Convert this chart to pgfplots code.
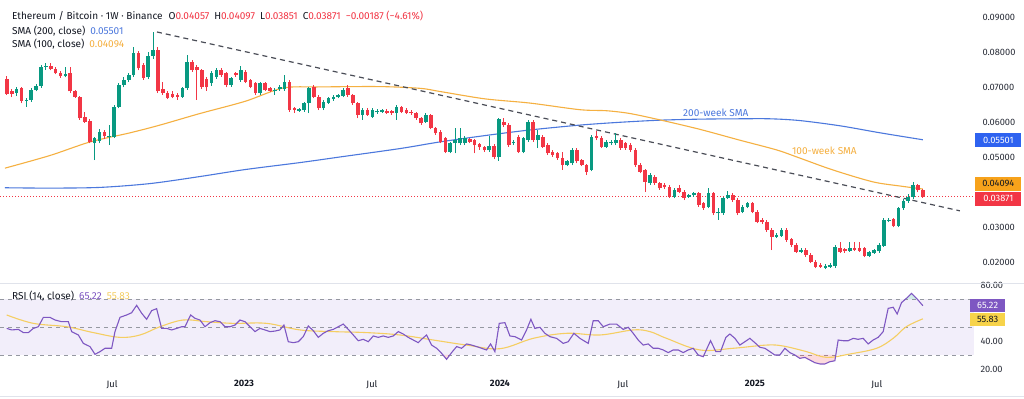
\documentclass[border=0pt]{standalone}
\usepackage{pgfplots}
\pgfplotsset{compat=1.18}
\usepackage{pgfplotstable}
\usepackage{fontspec}
\setmainfont{Fira Sans}
\definecolor{up}{HTML}{089981}
\definecolor{down}{HTML}{F23645}
\definecolor{smablue}{HTML}{4C78DD}
\definecolor{boxblue}{HTML}{2E62F0}
\definecolor{smaorange}{HTML}{F5B041}
\definecolor{boxorange}{HTML}{F7A21B}
\definecolor{rsipurple}{HTML}{7E57C2}
\definecolor{rsiyellow}{HTML}{F5CE62}
\definecolor{boxyellow}{HTML}{F7D34A}
\definecolor{rsibg}{HTML}{F2EEFA}
\definecolor{txt}{HTML}{131722}
\definecolor{scaletxt}{HTML}{2A2E39}
\definecolor{bandgray}{HTML}{9598A1}
\definecolor{trend}{HTML}{4A4D57}
\definecolor{sep}{HTML}{E0E3EB}
\newcommand{\lfont}{\fontsize{9.3}{11}\selectfont}
\newcommand{\gfont}{\fontsize{10.1}{12}\selectfont}

\pgfplotstableread{
k o h l c
0 0.0723 0.0733 0.0678 0.0681
1 0.0689 0.0695 0.0672 0.0682
2 0.0685 0.0702 0.0675 0.0695
3 0.0697 0.0700 0.0654 0.0661
4 0.0661 0.0668 0.0645 0.0664
5 0.0664 0.0697 0.0659 0.0692
6 0.0692 0.0708 0.0688 0.0704
7 0.0704 0.0764 0.0699 0.0759
8 0.0759 0.0769 0.0750 0.0762
9 0.0762 0.0768 0.0748 0.0752
10 0.0752 0.0757 0.0737 0.0740
11 0.0742 0.0746 0.0727 0.0731
12 0.0731 0.0759 0.0728 0.0738
13 0.0740 0.0759 0.0683 0.0688
14 0.0688 0.0692 0.0670 0.0673
15 0.0673 0.0676 0.0607 0.0611
16 0.0616 0.0630 0.0598 0.0602
17 0.0605 0.0608 0.0540 0.0545
18 0.0540 0.0559 0.0492 0.0554
19 0.0547 0.0580 0.0540 0.0571
20 0.0571 0.0577 0.0552 0.0560
21 0.0557 0.0592 0.0535 0.0561
22 0.0559 0.0650 0.0555 0.0645
23 0.0645 0.0712 0.0640 0.0707
24 0.0707 0.0730 0.0700 0.0721
25 0.0721 0.0742 0.0715 0.0735
26 0.0735 0.0816 0.0730 0.0797
27 0.0797 0.0805 0.0748 0.0754
28 0.0764 0.0770 0.0722 0.0727
29 0.0730 0.0800 0.0725 0.0790
30 0.0790 0.0859 0.0782 0.0806
31 0.0806 0.0815 0.0683 0.0688
32 0.0695 0.0716 0.0678 0.0685
33 0.0685 0.0690 0.0666 0.0670
34 0.0682 0.0688 0.0668 0.0672
35 0.0679 0.0685 0.0664 0.0673
36 0.0673 0.0702 0.0670 0.0697
37 0.0697 0.0792 0.0693 0.0773
38 0.0773 0.0778 0.0745 0.0749
39 0.0759 0.0764 0.0664 0.0749
40 0.0749 0.0752 0.0695 0.0702
41 0.0725 0.0728 0.0690 0.0700
42 0.0712 0.0747 0.0705 0.0740
43 0.0730 0.0755 0.0725 0.0749
44 0.0749 0.0756 0.0730 0.0735
45 0.0740 0.0745 0.0700 0.0707
46 0.0707 0.0730 0.0702 0.0726
47 0.0740 0.0745 0.0730 0.0735
48 0.0722 0.0760 0.0716 0.0750
49 0.0745 0.0750 0.0712 0.0716
50 0.0721 0.0725 0.0697 0.0702
51 0.0711 0.0716 0.0678 0.0683
52 0.0683 0.0716 0.0678 0.0711
53 0.0711 0.0715 0.0688 0.0692
54 0.0697 0.0700 0.0686 0.0690
55 0.0688 0.0697 0.0678 0.0692
56 0.0694 0.0706 0.0690 0.0702
57 0.0694 0.0735 0.0690 0.0716
58 0.0716 0.0722 0.0630 0.0635
59 0.0640 0.0645 0.0626 0.0635
60 0.0633 0.0642 0.0630 0.0637
61 0.0635 0.0658 0.0630 0.0654
62 0.0654 0.0702 0.0626 0.0697
63 0.0702 0.0707 0.0668 0.0673
64 0.0673 0.0678 0.0635 0.0640
65 0.0640 0.0664 0.0635 0.0659
66 0.0656 0.0672 0.0652 0.0668
67 0.0666 0.0677 0.0662 0.0673
68 0.0671 0.0682 0.0668 0.0678
69 0.0675 0.0697 0.0671 0.0692
70 0.0697 0.0706 0.0673 0.0678
71 0.0678 0.0682 0.0650 0.0654
72 0.0654 0.0658 0.0611 0.0621
73 0.0621 0.0640 0.0607 0.0635
74 0.0635 0.0640 0.0618 0.0621
75 0.0616 0.0640 0.0612 0.0635
76 0.0628 0.0637 0.0625 0.0633
77 0.0630 0.0639 0.0627 0.0635
78 0.0633 0.0637 0.0624 0.0627
79 0.0632 0.0635 0.0622 0.0626
80 0.0627 0.0648 0.0607 0.0645
81 0.0643 0.0647 0.0626 0.0630
82 0.0635 0.0640 0.0623 0.0627
83 0.0630 0.0634 0.0621 0.0626
84 0.0626 0.0630 0.0607 0.0611
85 0.0611 0.0614 0.0593 0.0597
86 0.0602 0.0626 0.0598 0.0621
87 0.0621 0.0625 0.0580 0.0583
88 0.0583 0.0587 0.0565 0.0568
89 0.0573 0.0577 0.0540 0.0544
90 0.0554 0.0558 0.0511 0.0516
91 0.0516 0.0545 0.0511 0.0540
92 0.0540 0.0583 0.0511 0.0549
93 0.0540 0.0583 0.0535 0.0554
94 0.0540 0.0560 0.0535 0.0554
95 0.0552 0.0556 0.0540 0.0545
96 0.0549 0.0553 0.0511 0.0535
97 0.0538 0.0542 0.0522 0.0528
98 0.0528 0.0533 0.0515 0.0520
99 0.0520 0.0560 0.0516 0.0532
100 0.0532 0.0537 0.0495 0.0500
101 0.0500 0.0612 0.0490 0.0608
102 0.0602 0.0611 0.0587 0.0592
103 0.0592 0.0597 0.0530 0.0535
104 0.0540 0.0550 0.0535 0.0545
105 0.0559 0.0564 0.0512 0.0516
106 0.0516 0.0559 0.0511 0.0554
107 0.0549 0.0607 0.0545 0.0602
108 0.0602 0.0607 0.0545 0.0549
109 0.0549 0.0578 0.0526 0.0564
110 0.0559 0.0564 0.0526 0.0530
111 0.0535 0.0540 0.0507 0.0511
112 0.0516 0.0520 0.0502 0.0507
113 0.0511 0.0515 0.0493 0.0497
114 0.0497 0.0516 0.0464 0.0478
115 0.0478 0.0492 0.0474 0.0488
116 0.0483 0.0526 0.0478 0.0521
117 0.0521 0.0526 0.0483 0.0488
118 0.0492 0.0496 0.0474 0.0478
119 0.0478 0.0482 0.0449 0.0459
120 0.0464 0.0564 0.0460 0.0559
121 0.0560 0.0575 0.0548 0.0555
122 0.0556 0.0560 0.0526 0.0530
123 0.0530 0.0549 0.0526 0.0545
124 0.0540 0.0549 0.0535 0.0545
125 0.0540 0.0568 0.0535 0.0549
126 0.0549 0.0554 0.0521 0.0526
127 0.0540 0.0545 0.0521 0.0526
128 0.0535 0.0540 0.0516 0.0521
129 0.0521 0.0526 0.0473 0.0478
130 0.0478 0.0483 0.0454 0.0459
131 0.0464 0.0468 0.0402 0.0430
132 0.0426 0.0454 0.0421 0.0449
133 0.0445 0.0449 0.0421 0.0426
134 0.0426 0.0430 0.0407 0.0411
135 0.0421 0.0426 0.0410 0.0414
136 0.0416 0.0421 0.0383 0.0388
137 0.0388 0.0411 0.0383 0.0407
138 0.0411 0.0421 0.0397 0.0402
139 0.0402 0.0406 0.0378 0.0383
140 0.0388 0.0396 0.0385 0.0392
141 0.0392 0.0402 0.0388 0.0397
142 0.0397 0.0402 0.0359 0.0364
143 0.0369 0.0373 0.0350 0.0354
144 0.0359 0.0411 0.0354 0.0397
145 0.0397 0.0402 0.0335 0.0340
146 0.0340 0.0354 0.0321 0.0345
147 0.0340 0.0388 0.0336 0.0383
148 0.0383 0.0404 0.0380 0.0392
149 0.0392 0.0397 0.0373 0.0378
150 0.0378 0.0383 0.0335 0.0340
151 0.0345 0.0364 0.0340 0.0359
152 0.0357 0.0373 0.0354 0.0369
153 0.0369 0.0373 0.0340 0.0345
154 0.0345 0.0350 0.0311 0.0316
155 0.0321 0.0326 0.0309 0.0314
156 0.0316 0.0321 0.0288 0.0292
157 0.0292 0.0297 0.0235 0.0273
158 0.0273 0.0283 0.0269 0.0278
159 0.0276 0.0297 0.0273 0.0292
160 0.0292 0.0297 0.0259 0.0264
161 0.0266 0.0269 0.0245 0.0250
162 0.0250 0.0254 0.0226 0.0230
163 0.0230 0.0240 0.0226 0.0235
164 0.0235 0.0240 0.0216 0.0221
165 0.0221 0.0226 0.0197 0.0202
166 0.0202 0.0207 0.0183 0.0188
167 0.0192 0.0197 0.0185 0.0188
168 0.0184 0.0195 0.0180 0.0189
169 0.0188 0.0197 0.0185 0.0192
170 0.0189 0.0250 0.0185 0.0245
171 0.0240 0.0259 0.0226 0.0230
172 0.0237 0.0242 0.0228 0.0232
173 0.0233 0.0259 0.0230 0.0242
174 0.0240 0.0259 0.0232 0.0235
175 0.0240 0.0259 0.0230 0.0233
176 0.0240 0.0243 0.0214 0.0218
177 0.0218 0.0233 0.0215 0.0230
178 0.0228 0.0238 0.0225 0.0235
179 0.0231 0.0254 0.0228 0.0250
180 0.0247 0.0326 0.0245 0.0321
181 0.0318 0.0326 0.0314 0.0322
182 0.0323 0.0328 0.0300 0.0304
183 0.0304 0.0359 0.0300 0.0354
184 0.0354 0.0381 0.0350 0.0376
185 0.0376 0.0395 0.0370 0.0388
186 0.0386 0.0430 0.0380 0.0421
187 0.0421 0.0425 0.0400 0.04057
188 0.04057 0.04097 0.03851 0.03871
}\candles

\begin{document}
\begin{tikzpicture}
\useasboundingbox (0,0) rectangle (1024bp,399bp);
\fill[white] (0,0) rectangle (1024bp,399bp);

% ---------------- main price pane ----------------
\begin{axis}[
  at={(0bp,116bp)}, anchor=south west,
  scale only axis, width=974bp, height=283bp,
  xmin=-1.42, xmax=198.5, ymin=0.01409, ymax=0.09494,
  axis line style={draw=none},
  major tick length=0pt,
  xtick=\empty,
  ytick={0.02,0.03,0.05,0.06,0.07,0.08,0.09},
  yticklabel pos=right,
  scaled y ticks=false,
  yticklabel style={/pgf/number format/fixed,
    /pgf/number format/fixed zerofill,
    /pgf/number format/precision=5,
    /pgf/number format/assume math mode=true,
    font=\lfont, text=scaletxt, anchor=west, xshift=5bp},
  clip=false,
]
% SMA 200
\addplot[smablue, line width=1.1bp, smooth, tension=0.5, forget plot] coordinates {
(-0.4,0.0413) (8.8,0.0412) (19.1,0.0414) (29.4,0.0425) (39.6,0.0445) (48.9,0.0465)
(60.2,0.0485) (68.4,0.0501) (80.7,0.0525) (88.9,0.0544) (98.1,0.0562) (107.3,0.0578)
(117.6,0.0592) (125.8,0.0600) (134.0,0.0606) (142.2,0.0609) (150.4,0.0610) (156.6,0.0610)
(162.7,0.0605) (171.0,0.0590) (179.2,0.0570) (188.0,0.05501)};
% SMA 100
\addplot[smaorange, line width=1.1bp, smooth, tension=0.5, forget plot] coordinates {
(-0.4,0.0469) (8.8,0.0505) (17.1,0.0544) (25.3,0.0570) (31.4,0.0592) (39.6,0.0625)
(48.9,0.0660) (56.7,0.0698) (64.2,0.0701) (76.6,0.0702) (84.8,0.0697) (88.9,0.0688)
(98.1,0.0667) (107.3,0.0655) (117.6,0.0636) (123.1,0.0633) (127.9,0.0625) (134.0,0.0607)
(142.2,0.0580) (150.4,0.0549) (158.0,0.0521) (162.7,0.0498) (169.5,0.0464) (177.7,0.0430)
(183.3,0.0418) (188.0,0.04094)};
% last price line
\addplot[down, line width=0.8bp, dash pattern=on 1bp off 2bp, forget plot] coordinates {(-1.42,0.03871) (198.5,0.03871)};
% trend line
\addplot[trend, line width=1.2bp, dash pattern=on 5bp off 4bp, forget plot] coordinates {(30.8,0.0858) (195.6,0.0347)};

% wicks
\addplot[draw=none, mark=none, forget plot, error bars/.cd, y dir=plus, y explicit, error mark=none,
  error bar style={line width=1bp, color=up}]
  table[x=k, y expr={\thisrow{c}>=\thisrow{o} ? \thisrow{l} : nan}, y error plus expr={\thisrow{h}-\thisrow{l}}] {\candles};
\addplot[draw=none, mark=none, forget plot, error bars/.cd, y dir=plus, y explicit, error mark=none,
  error bar style={line width=1bp, color=down}]
  table[x=k, y expr={\thisrow{c}<\thisrow{o} ? \thisrow{l} : nan}, y error plus expr={\thisrow{h}-\thisrow{l}}] {\candles};
% bodies
\addplot[draw=none, mark=none, forget plot, error bars/.cd, y dir=plus, y explicit, error mark=none,
  error bar style={line width=3.6bp, color=up}]
  table[x=k, y expr={\thisrow{c}>=\thisrow{o} ? \thisrow{o} : nan}, y error plus expr={max(\thisrow{c}-\thisrow{o},0.0003)}] {\candles};
\addplot[draw=none, mark=none, forget plot, error bars/.cd, y dir=plus, y explicit, error mark=none,
  error bar style={line width=3.6bp, color=down}]
  table[x=k, y expr={\thisrow{c}<\thisrow{o} ? \thisrow{c} : nan}, y error plus expr={max(\thisrow{o}-\thisrow{c},0.0003)}] {\candles};

% annotations
\node[font=\gfont, text=smablue] at (axis cs:145.5,0.0626) {200-week SMA};
\node[font=\gfont, text=smaorange] at (axis cs:167.8,0.0518) {100-week SMA};
% price scale boxes
\node[fill=boxblue, text=white, font=\lfont, minimum width=46bp, minimum height=14bp, inner sep=0pt] at (axis cs:203.5,0.05494) {0.05501};
\node[fill=boxorange, text=txt, font=\lfont, minimum width=46bp, minimum height=14bp, inner sep=0pt] at (axis cs:203.5,0.04245) {0.04094};
\node[fill=down, text=white, font=\lfont, minimum width=46bp, minimum height=14bp, inner sep=0pt] at (axis cs:203.5,0.03817) {0.03871};
\end{axis}

% ---------------- RSI pane ----------------
\begin{axis}[
  at={(0bp,23bp)}, anchor=south west,
  scale only axis, width=974bp, height=93bp,
  xmin=-1.42, xmax=198.5, ymin=15, ymax=81.43,
  axis line style={draw=none},
  major tick length=0pt,
  xtick={21.57,48.66,74.92,101.19,126.43,153.52,178.55},
  xticklabels={Jul,\textbf{2023},Jul,\textbf{2024},Jul,\textbf{2025},Jul},
  xticklabel style={font=\lfont, text=txt, yshift=-1bp},
  ytick={20,40,80},
  yticklabel pos=right,
  yticklabel style={/pgf/number format/fixed,
    /pgf/number format/fixed zerofill,
    /pgf/number format/precision=2,
    /pgf/number format/assume math mode=true,
    font=\lfont, text=scaletxt, anchor=west, xshift=3bp},
  clip=false,
]
\fill[rsibg] (axis cs:-1.42,30) rectangle (axis cs:198.5,70);
\draw[bandgray, line width=0.8bp, dash pattern=on 4bp off 4bp] (axis cs:-1.42,70) -- (axis cs:198.5,70);
\draw[bandgray, line width=0.8bp, dash pattern=on 4bp off 4bp] (axis cs:-1.42,50) -- (axis cs:198.5,50);
\draw[bandgray, line width=0.8bp, dash pattern=on 4bp off 4bp] (axis cs:-1.42,30) -- (axis cs:198.5,30);
% oversold / overbought fills
\addplot[fill=down, fill opacity=0.18, draw=none, forget plot] coordinates {(89.45,30) (90.25,26.9) (90.9,30)} -- cycle;
\addplot[fill=down, fill opacity=0.18, draw=none, forget plot] coordinates {(141.89,30) (142.92,28.8) (143.2,30)} -- cycle;
\addplot[fill=down, fill opacity=0.18, draw=none, forget plot] coordinates {(161.73,30) (162.75,27.6) (163.78,28.3) (164.81,26.4) (165.83,24.5) (166.86,23.6) (167.88,23.6) (168.91,25.2) (169.94,25.9) (170.2,30)} -- cycle;
\addplot[fill=up, fill opacity=0.18, draw=none, forget plot] coordinates {(184.3,70) (184.64,70.5) (185.67,74) (186.70,70.5) (186.8,70)} -- cycle;
% RSI MA
\addplot[rsiyellow, line width=1.1bp, smooth, tension=0.6, forget plot] coordinates {
(-0.05,58.6) (5.42,52.6) (12.26,50.2) (17.74,46) (23.21,42.6) (27.31,44.3) (31.42,50.2)
(36.21,55) (40.99,53.8) (46.47,52.6) (53.31,52.6) (60.15,47.9) (66.99,46.7) (73.83,46)
(80.67,44.3) (87.51,40.7) (94.35,37.1) (101.19,34.5) (108.03,41.9) (114.87,45.5)
(121.71,44.3) (128.55,47.9) (131.97,46.7) (135.39,41.9) (142.23,33.6) (149.07,34.8)
(155.91,37.1) (159.33,36.4) (164.12,32.4) (168.23,28.3) (173.0,30.7) (178.5,34.8)
(181.9,41.9) (184.6,50.2) (188,55.83)};
% RSI
\addplot[rsipurple, line width=1.1bp, forget plot] coordinates {
(-0.05,49) (0.98,47.9) (2.35,48.3) (3.37,46) (4.40,46) (5.42,49) (6.45,50.2) (7.48,56.9)
(8.84,56.9) (9.87,55) (11.24,53.8) (12.61,53.8) (13.29,46.7) (14.66,44.3) (15.69,38.3)
(17.05,36) (18.08,30.5) (19.11,32.4) (20.13,34.8) (21.50,34.8) (22.18,46.7) (23.21,56.9)
(24.58,58.6) (25.60,60.2) (26.63,65.5) (27.66,59.8) (28.68,55.5) (29.71,61.7) (30.73,63.1)
(31.76,49) (32.79,49) (33.81,47.9) (34.84,49) (35.86,50.2) (36.55,50.2) (37.71,58.6)
(38.60,56.2) (39.63,55) (40.65,50.2) (41.68,53.1) (42.71,54.5) (43.73,53.8) (44.76,50.2)
(45.78,50.2) (46.81,51.4) (47.84,55) (48.86,53.8) (49.89,50.2) (50.91,46.7) (51.94,49)
(52.97,47.9) (53.99,46.7) (55.02,47.1) (56.04,47.9) (56.86,51.4) (57.75,39.5) (58.78,38.8)
(59.81,39.5) (60.83,43.1) (61.86,50.7) (62.88,47.4) (63.91,42.6) (64.94,45.5) (65.96,47.4)
(66.99,48.3) (68.01,50.2) (69.04,52.1) (70.07,48.3) (71.09,44.3) (72.12,40.2) (73.14,41.2)
(74.17,39.5) (75.20,43.6) (76.22,42.6) (77.25,43.6) (78.27,42.6) (79.30,43.6) (80.33,46.7)
(81.35,45) (82.38,42.6) (83.41,40.7) (84.43,38.8) (85.11,41.2) (86.14,44.3) (87.17,37.1)
(88.19,34.8) (89.22,31.2) (90.25,26.9) (91.27,31.7) (92.30,36) (93.32,34.8) (94.35,37.9)
(95.38,37.1) (96.40,36) (97.43,34.8) (98.45,33.6) (99.27,37.9) (100.16,32.4) (101.05,52.6)
(102.22,53.1) (103.24,43.6) (104.27,43.1) (105.64,40.7) (106.66,47.9) (107.55,55.5)
(108.37,49) (109.40,49.8) (110.42,45.5) (111.45,43.1) (112.82,41.9) (114.19,38.3)
(115.21,39.5) (116.38,45.5) (117.61,41.9) (119.32,38.3) (120.34,54.5) (121.37,54.5)
(122.40,50.2) (123.76,52.1) (125.13,52.1) (126.50,48.3) (127.53,49.8) (128.55,45.5)
(129.58,40.7) (130.60,37.1) (131.63,37.9) (132.66,34.8) (133.68,34.8) (134.71,33.6)
(135.73,31.7) (136.76,33.6) (137.79,33.6) (138.81,31.7) (139.84,33.6) (140.86,34.8)
(141.89,30) (142.92,28.8) (144.42,40.2) (145.52,32.4) (146.47,32.4) (147.57,42.6)
(148.39,45) (149.42,41.9) (150.44,37.1) (151.47,39.5) (152.49,41.9) (153.52,38.8)
(154.55,35.5) (155.57,34.8) (156.60,32.4) (157.62,30) (158.65,30) (159.68,34.8)
(160.70,31.7) (161.73,30) (162.75,27.6) (163.78,28.3) (164.81,26.4) (165.83,24.5)
(166.86,23.6) (167.88,23.6) (168.91,25.2) (169.94,25.9) (170.62,40.7) (171.65,40.2)
(172.67,40.2) (173.70,41.9) (174.72,41.2) (175.75,41.9) (176.78,37.9) (177.80,40.7)
(178.83,42.6) (179.86,46.7) (180.88,63.3) (181.91,64.1) (182.73,59.3) (183.62,67.4)
(184.64,70.5) (185.67,74) (186.70,70.5) (188,65.22)};
% value boxes
\node[fill=rsipurple, text=white, font=\lfont, minimum width=35bp, minimum height=13bp, inner sep=0pt] at (axis cs:201.3,65.22) {65.22};
\node[fill=boxyellow, text=txt, font=\lfont, minimum width=35bp, minimum height=13bp, inner sep=0pt] at (axis cs:201.3,55.7) {55.83};
\end{axis}

% pane separator
\draw[sep, line width=0.8bp] (0,116bp) -- (1024bp,116bp);
\draw[sep, line width=0.8bp] (0,3bp) -- (1024bp,3bp);

% legends
\node[anchor=base west, font=\gfont, text=txt, inner sep=0pt] at (12bp,379.5bp)
 {Ethereum / Bitcoin · 1W · Binance\hspace{6bp}O\textcolor{down}{0.04057}\hspace{5bp}H\textcolor{down}{0.04097}\hspace{5bp}L\textcolor{down}{0.03851}\hspace{5bp}C\textcolor{down}{0.03871}\hspace{5bp}\textcolor{down}{−0.00187 (−4.61\%)}};
\node[anchor=base west, font=\gfont, text=txt, inner sep=0pt] at (12bp,364.5bp)
 {SMA (200, close)\hspace{5bp}\textcolor{smablue}{0.05501}};
\node[anchor=base west, font=\gfont, text=txt, inner sep=0pt] at (12bp,351.8bp)
 {SMA (100, close)\hspace{5bp}\textcolor{smaorange}{0.04094}};
\node[anchor=base west, font=\gfont, text=txt, inner sep=0pt] at (12bp,99.8bp)
 {RSI (14, close)\hspace{5bp}\textcolor{rsipurple}{65.22}\hspace{5bp}\textcolor{rsiyellow}{55.83}};
\end{tikzpicture}
\end{document}
